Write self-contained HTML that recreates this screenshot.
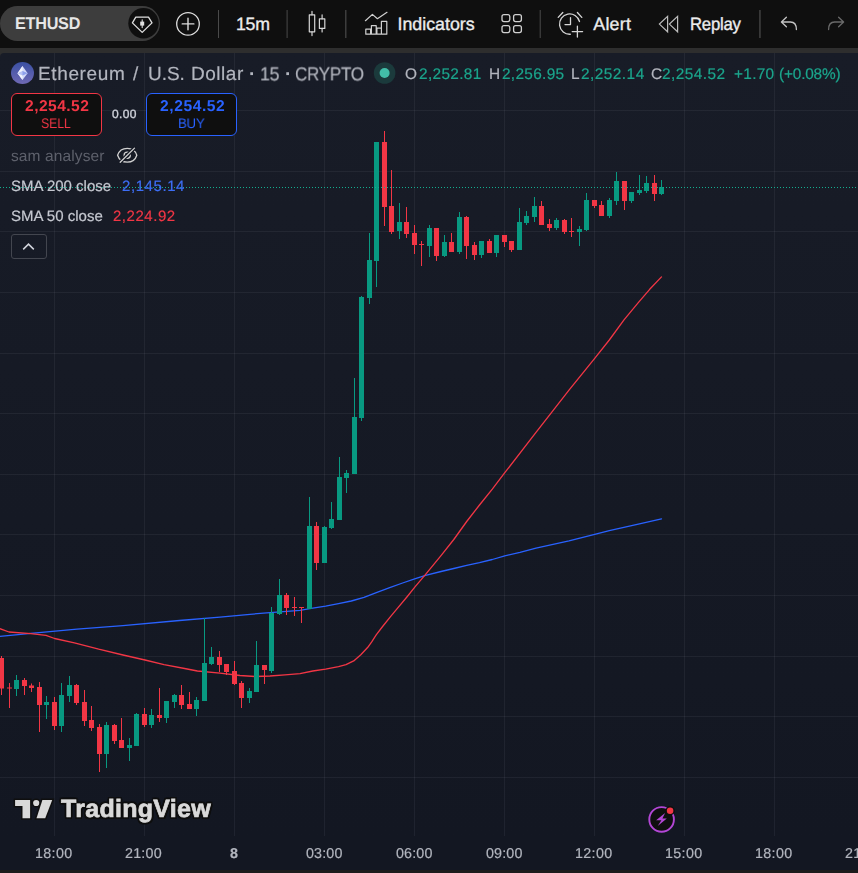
<!DOCTYPE html>
<html lang="en">
<head>
<meta charset="utf-8">
<title>ETHUSD 15 - TradingView</title>
<style>
html,body{margin:0;padding:0;}
body{width:858px;height:873px;overflow:hidden;position:relative;background:#0f0f0f;font-family:"Liberation Sans",sans-serif;}
#toolbar{position:absolute;left:0;top:0;width:858px;height:48px;background:#0f0f0f;}
#band{position:absolute;left:0;top:48px;width:858px;height:12px;background:#2e2e2e;}
#chart{position:absolute;left:0;top:53px;width:858px;height:817px;background:linear-gradient(to bottom,#181c27 0px,#131722 783px,#131722 817px);border-top-left-radius:4px;}
#bottomband{position:absolute;left:0;top:870px;width:858px;height:3px;background:#1c1c1c;}
#plot,#icons{position:absolute;left:0;top:0;}
.t{position:absolute;text-rendering:geometricPrecision;line-height:1;white-space:pre;transform-origin:0 84.65%;}
.sw{-webkit-text-stroke:0.35px currentColor;}
.sw2{-webkit-text-stroke:0.2px currentColor;}
.tvshadow{-webkit-text-stroke:0.7px #d9d9d9;text-shadow:0 0 2px #0f0f0f,1.6px 1.6px 0 #0f0f0f,-1.6px -1.6px 0 #0f0f0f,1.6px -1.6px 0 #0f0f0f,-1.6px 1.6px 0 #0f0f0f,0 2.2px 0 #0f0f0f,0 -2.2px 0 #0f0f0f,2.2px 0 0 #0f0f0f,-2.2px 0 0 #0f0f0f;}
.pill{position:absolute;left:0;top:5.5px;width:160px;height:35px;border-radius:17.5px;background:#3d3d3d;}
.sep{position:absolute;top:10px;width:1px;height:28px;background:#4a4a4a;}
.qbox{position:absolute;top:93px;width:89px;height:41px;border:1px solid;border-radius:6px;background:#0f0f0f;}
.qsell{left:11px;border-color:#f23645;}
.qbuy{left:146px;border-color:#2962ff;}
.collapse{position:absolute;left:11px;top:234px;width:34px;height:23px;border:1px solid #43464f;border-radius:3px;}
.cv{will-change:transform;}

</style>
</head>
<body>
<div id="toolbar"></div>
<div id="band"></div>
<div id="chart"></div>
<div id="bottomband"></div>
<svg id="plot" width="858" height="873" viewBox="0 0 858 873">
<defs><pattern id="dots" x="0" y="0" width="3" height="1" patternUnits="userSpaceOnUse"><rect x="0" y="0" width="1" height="1" fill="#13ad8f"/></pattern></defs>
<g fill="rgba(240,243,250,0.06)" shape-rendering="crispEdges">
<rect x="0" y="110" width="858" height="1"/>
<rect x="0" y="171" width="858" height="1"/>
<rect x="0" y="231" width="858" height="1"/>
<rect x="0" y="292" width="858" height="1"/>
<rect x="0" y="353" width="858" height="1"/>
<rect x="0" y="413" width="858" height="1"/>
<rect x="0" y="474" width="858" height="1"/>
<rect x="0" y="534" width="858" height="1"/>
<rect x="0" y="595" width="858" height="1"/>
<rect x="0" y="656" width="858" height="1"/>
<rect x="0" y="716" width="858" height="1"/>
<rect x="0" y="777" width="858" height="1"/>
<rect x="54" y="53" width="1" height="783"/>
<rect x="144" y="53" width="1" height="783"/>
<rect x="234" y="53" width="1" height="783"/>
<rect x="324" y="53" width="1" height="783"/>
<rect x="414" y="53" width="1" height="783"/>
<rect x="504" y="53" width="1" height="783"/>
<rect x="594" y="53" width="1" height="783"/>
<rect x="684" y="53" width="1" height="783"/>
<rect x="774" y="53" width="1" height="783"/>
</g>
<polyline points="-1.0,636.5 0.0,636.4 30.8,633.3 77.0,629.2 123.0,625.6 179.5,620.5 220.0,617.2 250.0,614.3 270.0,612.6 300.0,610.3 312.8,608.2 325.6,606.2 338.5,603.6 351.3,601.0 364.0,597.4 377.0,592.3 389.7,587.7 402.6,583.0 415.4,578.7 425.6,575.4 441.0,571.5 453.8,568.5 466.7,565.4 479.5,562.6 492.3,559.5 504.8,555.9 520.0,552.4 536.0,548.2 569.0,540.9 594.7,534.3 609.3,530.6 635.0,524.8 661.5,518.9" fill="none" stroke="#2962ff" stroke-width="1.3" stroke-linejoin="round" stroke-linecap="round"/>
<polyline points="-1.0,628.5 0.0,628.7 9.0,632.0 30.8,633.6 46.0,635.4 54.6,638.5 74.4,642.8 98.7,649.2 123.0,655.0 145.0,660.0 164.0,664.6 184.6,668.5 197.4,671.0 220.0,673.2 240.0,675.5 255.0,676.5 270.0,676.0 285.0,674.8 300.0,673.6 312.8,671.0 325.6,669.2 338.5,666.7 346.0,664.7 353.7,660.9 360.8,654.7 367.8,647.3 371.7,641.9 376.2,634.9 382.6,626.5 390.3,616.9 398.0,607.7 406.9,597.0 415.4,586.4 425.6,574.4 441.0,555.6 453.8,539.5 466.7,521.5 479.5,505.0 492.3,489.2 504.8,472.7 536.0,432.4 569.0,390.2 594.7,358.3 609.3,340.0 624.0,319.8 638.7,302.2 649.7,289.3 661.5,276.9" fill="none" stroke="#f23645" stroke-width="1.3" stroke-linejoin="round" stroke-linecap="round"/>
<g fill="#089981"><rect x="16" y="675" width="1" height="21"/><rect x="14" y="680" width="5" height="9"/><rect x="46" y="696" width="1" height="23"/><rect x="44" y="702" width="5" height="3"/><rect x="61" y="683" width="1" height="49"/><rect x="59" y="695" width="5" height="31"/><rect x="69" y="676" width="1" height="26"/><rect x="67" y="685" width="5" height="11"/><rect x="106" y="722" width="1" height="46"/><rect x="104" y="725" width="5" height="29"/><rect x="129" y="738" width="1" height="23"/><rect x="127" y="745" width="5" height="3"/><rect x="136" y="713" width="1" height="33"/><rect x="134" y="714" width="5" height="32"/><rect x="151" y="709" width="1" height="19"/><rect x="149" y="715" width="5" height="10"/><rect x="166" y="701" width="1" height="22"/><rect x="164" y="701" width="5" height="17"/><rect x="174" y="694" width="1" height="14"/><rect x="172" y="695" width="5" height="7"/><rect x="196" y="697" width="1" height="19"/><rect x="194" y="700" width="5" height="9"/><rect x="204" y="618" width="1" height="83"/><rect x="202" y="663" width="5" height="38"/><rect x="211" y="647" width="1" height="18"/><rect x="209" y="657" width="5" height="7"/><rect x="249" y="688" width="1" height="15"/><rect x="247" y="691" width="5" height="7"/><rect x="256" y="641" width="1" height="51"/><rect x="254" y="665" width="5" height="27"/><rect x="271" y="607" width="1" height="66"/><rect x="269" y="613" width="5" height="58"/><rect x="279" y="579" width="1" height="36"/><rect x="277" y="595" width="5" height="19"/><rect x="309" y="497" width="1" height="112"/><rect x="307" y="526" width="5" height="83"/><rect x="324" y="526" width="1" height="37"/><rect x="322" y="527" width="5" height="36"/><rect x="331" y="502" width="1" height="27"/><rect x="329" y="519" width="5" height="9"/><rect x="339" y="457" width="1" height="63"/><rect x="337" y="477" width="5" height="43"/><rect x="346" y="470" width="1" height="23"/><rect x="344" y="473" width="5" height="5"/><rect x="354" y="378" width="1" height="96"/><rect x="352" y="417" width="5" height="57"/><rect x="361" y="296" width="1" height="125"/><rect x="359" y="297" width="5" height="121"/><rect x="369" y="233" width="1" height="71"/><rect x="367" y="260" width="5" height="38"/><rect x="376" y="142" width="1" height="145"/><rect x="374" y="142" width="5" height="119"/><rect x="399" y="203" width="1" height="36"/><rect x="397" y="222" width="5" height="9"/><rect x="429" y="225" width="1" height="32"/><rect x="427" y="228" width="5" height="18"/><rect x="444" y="235" width="1" height="22"/><rect x="442" y="242" width="5" height="14"/><rect x="459" y="212" width="1" height="42"/><rect x="457" y="217" width="5" height="35"/><rect x="481" y="241" width="1" height="17"/><rect x="479" y="241" width="5" height="14"/><rect x="496" y="235" width="1" height="22"/><rect x="494" y="235" width="5" height="18"/><rect x="519" y="208" width="1" height="42"/><rect x="517" y="222" width="5" height="28"/><rect x="526" y="211" width="1" height="14"/><rect x="524" y="216" width="5" height="7"/><rect x="534" y="197" width="1" height="25"/><rect x="532" y="206" width="5" height="11"/><rect x="556" y="218" width="1" height="12"/><rect x="554" y="220" width="5" height="8"/><rect x="579" y="226" width="1" height="20"/><rect x="577" y="229" width="5" height="3"/><rect x="586" y="193" width="1" height="38"/><rect x="584" y="200" width="5" height="30"/><rect x="609" y="198" width="1" height="20"/><rect x="607" y="200" width="5" height="16"/><rect x="616" y="172" width="1" height="33"/><rect x="614" y="181" width="5" height="20"/><rect x="631" y="192" width="1" height="11"/><rect x="629" y="192" width="5" height="9"/><rect x="639" y="175" width="1" height="20"/><rect x="637" y="190" width="5" height="3"/><rect x="646" y="176" width="1" height="17"/><rect x="644" y="183" width="5" height="8"/><rect x="661" y="180" width="1" height="15"/><rect x="659" y="187" width="5" height="7"/></g>
<g fill="#f23645"><rect x="1" y="656" width="1" height="39"/><rect x="-1" y="658" width="5" height="30.5"/><rect x="9" y="683" width="1" height="25"/><rect x="7" y="687.5" width="5" height="1"/><rect x="24" y="678" width="1" height="17"/><rect x="22" y="680" width="5" height="6"/><rect x="31" y="683.5" width="1" height="8.5"/><rect x="29" y="685.5" width="5" height="2.5"/><rect x="39" y="682" width="1" height="50"/><rect x="37" y="687" width="5" height="18"/><rect x="54" y="697" width="1" height="33"/><rect x="52" y="702" width="5" height="24"/><rect x="76" y="684" width="1" height="21"/><rect x="74" y="685" width="5" height="18"/><rect x="84" y="690" width="1" height="36"/><rect x="82" y="702" width="5" height="19"/><rect x="91" y="706" width="1" height="25"/><rect x="89" y="720" width="5" height="8"/><rect x="99" y="724" width="1" height="48"/><rect x="97" y="727" width="5" height="27"/><rect x="114" y="724" width="1" height="20"/><rect x="112" y="725" width="5" height="16"/><rect x="121" y="718" width="1" height="30"/><rect x="119" y="740" width="5" height="8"/><rect x="144" y="708" width="1" height="19"/><rect x="142" y="714" width="5" height="11"/><rect x="159" y="688" width="1" height="34"/><rect x="157" y="715" width="5" height="3"/><rect x="181" y="685" width="1" height="24"/><rect x="179" y="695" width="5" height="10"/><rect x="189" y="692" width="1" height="17"/><rect x="187" y="704" width="5" height="5"/><rect x="219" y="651" width="1" height="21"/><rect x="217" y="657" width="5" height="8"/><rect x="226" y="664" width="1" height="11"/><rect x="224" y="664" width="5" height="8"/><rect x="234" y="661" width="1" height="24"/><rect x="232" y="671" width="5" height="13"/><rect x="241" y="681" width="1" height="27"/><rect x="239" y="683" width="5" height="15"/><rect x="264" y="665" width="1" height="19"/><rect x="262" y="665" width="5" height="5"/><rect x="286" y="593" width="1" height="22"/><rect x="284" y="595" width="5" height="13"/><rect x="294" y="597" width="1" height="19"/><rect x="292" y="607" width="5" height="1"/><rect x="301" y="607" width="1" height="16"/><rect x="299" y="607" width="5" height="1"/><rect x="316" y="522" width="1" height="48"/><rect x="314" y="526" width="5" height="37"/><rect x="384" y="131" width="1" height="95"/><rect x="382" y="142" width="5" height="65"/><rect x="391" y="170" width="1" height="64"/><rect x="389" y="206" width="5" height="26"/><rect x="406" y="207" width="1" height="31"/><rect x="404" y="222" width="5" height="12"/><rect x="414" y="225" width="1" height="29"/><rect x="412" y="233" width="5" height="12"/><rect x="421" y="241" width="1" height="25"/><rect x="419" y="244" width="5" height="1"/><rect x="436" y="228" width="1" height="33"/><rect x="434" y="228" width="5" height="28"/><rect x="451" y="233" width="1" height="19"/><rect x="449" y="242" width="5" height="10"/><rect x="466" y="216" width="1" height="43"/><rect x="464" y="217" width="5" height="29"/><rect x="474" y="242" width="1" height="18"/><rect x="472" y="245" width="5" height="10"/><rect x="489" y="239" width="1" height="14"/><rect x="487" y="241" width="5" height="12"/><rect x="504" y="235" width="1" height="12"/><rect x="502" y="235" width="5" height="7"/><rect x="511" y="241" width="1" height="11"/><rect x="509" y="241" width="5" height="9"/><rect x="541" y="201" width="1" height="24"/><rect x="539" y="206" width="5" height="19"/><rect x="549" y="219" width="1" height="12"/><rect x="547" y="224" width="5" height="4"/><rect x="564" y="219" width="1" height="15"/><rect x="562" y="220" width="5" height="12"/><rect x="571" y="218" width="1" height="19"/><rect x="569" y="231" width="5" height="1"/><rect x="594" y="200" width="1" height="8"/><rect x="592" y="200" width="5" height="6"/><rect x="601" y="201" width="1" height="15"/><rect x="599" y="205" width="5" height="11"/><rect x="624" y="181" width="1" height="29"/><rect x="622" y="181" width="5" height="20"/><rect x="654" y="175" width="1" height="26"/><rect x="652" y="183" width="5" height="11"/></g>
<rect x="0" y="187" width="858" height="1" fill="url(#dots)" shape-rendering="crispEdges"/>
</svg>
<div class="pill"></div>
<div class="qbox qsell"></div>
<div class="qbox qbuy"></div>
<div class="collapse"></div>
<svg id="icons" width="858" height="873" viewBox="0 0 858 873" fill="none" stroke-linecap="round" stroke-linejoin="round">
<defs>
<linearGradient id="ethg" x1="0" y1="0" x2="0" y2="1"><stop offset="0" stop-color="#3a50a3"/><stop offset="1" stop-color="#6f69b4"/></linearGradient>
</defs>
<!-- toolbar separators -->
<g fill="#4a4a4a"><rect x="218" y="10" width="1" height="28"/><rect x="286.6" y="10" width="1" height="28"/><rect x="345.2" y="10" width="1.2" height="28"/><rect x="539.7" y="10" width="1" height="28"/><rect x="759.3" y="10" width="1.3" height="28"/></g>
<!-- symbol search: crown/diamond badge -->
<circle cx="143.5" cy="23.3" r="15.2" fill="#0f0f0f"/>
<path d="M135.8 17.2H148.5L152 22.9L142.2 32.4L132.4 22.9Z" stroke="#e0e0e0" stroke-width="1.3"/>
<rect x="140.2" y="21.6" width="4" height="4" fill="#e0e0e0"/>
<path d="M142.2 19.8V27.6" stroke="#e0e0e0" stroke-width="1.1"/>
<!-- compare / add symbol -->
<circle cx="188" cy="23.9" r="11.3" stroke="#dcdcdc" stroke-width="1.3"/>
<path d="M182.2 23.9H193.9M188 18.2V29.7" stroke="#dcdcdc" stroke-width="1.4"/>
<!-- candle style -->
<g stroke="#d6d6d6" stroke-width="1.2">
<rect x="309.3" y="14.8" width="5.4" height="17"/>
<path d="M312 11.4V14.8M312 31.8V35.6"/>
<rect x="319.4" y="18.8" width="5.4" height="9.6"/>
<path d="M322.1 14.8V18.8M322.1 28.4V32"/>
</g>
<!-- indicators -->
<g stroke="#d0d0d0" stroke-width="1.2">
<path d="M365.4 20.7L372.4 14.4L377.4 18.7L387 12.3"/>
<path d="M365.8 34.2V29.2H370.6V34.2M371.4 34.2V25.6H376.2V34.2M376.9 34.2V28.2H381.4V34.2M381.4 34.2V21.4H386.8V34.2H365.8"/>
</g>
<!-- layout grid -->
<g stroke="#d0d0d0" stroke-width="1.3">
<rect x="502" y="14.6" width="7.8" height="7" rx="2"/>
<rect x="513.6" y="14.6" width="7.8" height="7" rx="2"/>
<rect x="502" y="25.6" width="7.8" height="7" rx="2"/>
<rect x="513.6" y="25.6" width="7.8" height="7" rx="2"/>
</g>
<!-- alert -->
<g stroke="#d6d6d6" stroke-width="1.3">
<path d="M570.3 34.25A10.15 10.15 0 1 1 579.5 21.5"/>
<path d="M558.2 17.4L562.8 12.5M577.4 12.5L581.8 17.4"/>
<path d="M570.5 17.6V24.6H565"/>
<path d="M572.2 31.6H582.6M577.4 26.2V37.1"/>
</g>
<!-- replay -->
<g stroke="#bdbdbd" stroke-width="1.2" stroke-linejoin="miter">
<path d="M667.6 16.4V31.8L659.4 24.1Z"/>
<path d="M677.6 16.4V31.8L669.4 24.1Z"/>
</g>
<!-- undo / redo -->
<path d="M786.4 17.2L781.4 22L786.4 26.8M781.6 22H790.4Q796.4 22 796.4 29.6" stroke="#c4c4c4" stroke-width="1.3"/>
<path d="M838.6 17.2L843.6 22L838.6 26.8M843.4 22H834.6Q828.6 22 828.6 29.6" stroke="#6a6a6a" stroke-width="1.3"/>
<!-- ETH logo -->
<ellipse cx="22.5" cy="73" rx="11.5" ry="11.1" fill="url(#ethg)"/>
<path d="M22.5 65.9L27.6 73.2L22.5 80.1L17.5 73.2Z" fill="#d3d9f8"/>
<path d="M22.5 65.9V80.1L17.5 73.2Z" fill="#f1f3fd"/>
<path d="M22.5 71L27.6 73.2L22.5 75.6L17.5 73.2Z" fill="#b7c2f3"/>
<path d="M22.5 71V75.6L27.6 73.2Z" fill="#8ea0ec"/>
<!-- market open status -->
<circle cx="384.6" cy="73" r="10.8" fill="#1b3a3c"/>
<circle cx="384.6" cy="73" r="5" fill="#42bda8"/>
<!-- hidden eye -->
<g stroke="#d0d0d0" stroke-width="1.3">
<path d="M117.6 155.2C120.6 146 134 146 136.8 155.2C134 164.4 120.6 164.4 117.6 155.2Z"/>
<circle cx="127.2" cy="155.2" r="3.1"/>
</g>
<path d="M120.2 162.3L134.5 148.1" stroke="#161a25" stroke-width="3.6"/>
<path d="M120.2 162.3L134.5 148.1" stroke="#d0d0d0" stroke-width="1.3"/>
<!-- collapse chevron -->
<path d="M23.2 249.4L28.5 244.1L33.8 249.4" stroke="#d1d4dc" stroke-width="1.5" stroke-linejoin="miter" stroke-linecap="butt"/>
<!-- TradingView mark -->
<g fill="#d9d9d9" stroke="#0f0f0f" stroke-width="3" paint-order="stroke" stroke-linejoin="miter">
<path d="M15.1 799.9H30.1V818.3H22.5V806H15.1Z"/>
<circle cx="36.2" cy="803" r="3.1"/>
<path d="M42.4 799.9H52.2L45.2 818.3H36.5Z"/>
</g>
<!-- go to realtime / flash -->
<circle cx="661.6" cy="819.4" r="12.3" fill="#0f0f0f" stroke="#b347d6" stroke-width="1.9"/>
<path d="M665.1 813L656.1 820.2H661.4L657.7 825.9L666.8 818.6H662.4Z" fill="#b347d6"/>
<circle cx="670.1" cy="810.8" r="4.7" fill="#0f0f0f"/>
<circle cx="670.1" cy="810.8" r="3.25" fill="#f23645"/>
</svg>

<span id="t_sym" class="t" style="left:14.63px;top:15.61px;font-size:17px;color:#e6e6e6;font-weight:700;letter-spacing:-0.250px;transform:translateY(-0.60px) scaleX(0.9519);">ETHUSD</span>
<span id="t_int" class="t sw" style="left:235.60px;top:15.73px;font-size:17.8px;color:#ececec;letter-spacing:-0.250px;transform:scaleX(0.9955);">15m</span>
<span id="t_ind" class="t sw" style="left:397.53px;top:15.73px;font-size:17.8px;color:#ececec;letter-spacing:-0.003px;">Indicators</span>
<span id="t_alert" class="t sw" style="left:593.24px;top:15.73px;font-size:17.8px;color:#ececec;letter-spacing:0.282px;">Alert</span>
<span id="t_replay" class="t sw" style="left:689.58px;top:15.73px;font-size:17.8px;color:#ececec;letter-spacing:-0.250px;transform:scaleX(0.9411);">Replay</span>
<span id="l_t1" class="t sw2 cv" style="left:37.70px;top:64.92px;font-size:19px;color:#b2b5be;letter-spacing:0.632px;transform:translateY(0.40px);">Ethereum</span>
<span id="l_t2" class="t sw2 cv" style="left:132.71px;top:64.92px;font-size:19px;color:#b2b5be;transform:translateY(0.40px);">/</span>
<span id="l_t3" class="t sw2 cv" style="left:147.61px;top:64.92px;font-size:19px;color:#b2b5be;letter-spacing:-0.051px;transform:translateY(0.40px);">U.S.</span>
<span id="l_t4" class="t sw2 cv" style="left:190.70px;top:64.92px;font-size:19px;color:#b2b5be;letter-spacing:0.528px;transform:translateY(0.40px);">Dollar</span>
<span id="l_t5" class="t cv" style="left:248.57px;top:64.92px;font-size:19px;color:#b2b5be;font-weight:700;transform:translateY(0.40px);">·</span>
<span id="l_t6" class="t sw2 cv" style="left:259.71px;top:64.92px;font-size:19px;color:#b2b5be;letter-spacing:-0.250px;transform:translateY(0.40px) scaleX(0.9350);">15</span>
<span id="l_t7" class="t cv" style="left:284.57px;top:64.92px;font-size:19px;color:#b2b5be;font-weight:700;transform:translateY(0.40px);">·</span>
<span id="l_t8" class="t sw2 cv" style="left:294.58px;top:64.92px;font-size:19px;color:#b2b5be;letter-spacing:-0.250px;transform:translateY(0.40px) scaleX(0.8927);">CRYPTO</span>
<span id="l_o" class="t sw2 cv" style="left:404.62px;top:65.96px;font-size:15.4px;color:#b2b5be;transform:translateY(0.50px);">O</span>
<span id="l_ov" class="t sw2 cv" style="left:418.59px;top:65.96px;font-size:15.4px;color:#1ba58c;letter-spacing:0.334px;transform:translateY(0.50px);">2,252.81</span>
<span id="l_h" class="t sw2 cv" style="left:488.74px;top:65.96px;font-size:15.4px;color:#b2b5be;transform:translateY(0.50px);">H</span>
<span id="l_hv" class="t sw2 cv" style="left:501.69px;top:65.96px;font-size:15.4px;color:#1ba58c;letter-spacing:0.313px;transform:translateY(0.50px);">2,256.95</span>
<span id="l_l" class="t sw2 cv" style="left:570.56px;top:65.96px;font-size:15.4px;color:#b2b5be;transform:translateY(0.50px);">L</span>
<span id="l_lv" class="t sw2 cv" style="left:580.54px;top:65.96px;font-size:15.4px;color:#1ba58c;letter-spacing:0.469px;transform:translateY(0.50px);">2,252.14</span>
<span id="l_c" class="t sw2 cv" style="left:650.66px;top:65.96px;font-size:15.4px;color:#b2b5be;transform:translateY(0.50px);">C</span>
<span id="l_cv" class="t sw2 cv" style="left:661.69px;top:65.96px;font-size:15.4px;color:#1ba58c;letter-spacing:0.467px;transform:translateY(0.50px);">2,254.52</span>
<span id="l_chg" class="t sw2 cv" style="left:733.51px;top:65.96px;font-size:15.4px;color:#1ba58c;letter-spacing:0.291px;transform:translateY(0.50px);">+1.70</span>
<span id="l_pct" class="t sw2 cv" style="left:778.71px;top:65.96px;font-size:15.4px;color:#1ba58c;letter-spacing:-0.180px;transform:translateY(0.50px);">(+0.08%)</span>
<span id="s_price" class="t cv" style="left:24.66px;top:97.79px;font-size:15.6px;color:#f23645;font-weight:700;letter-spacing:0.459px;transform:translateY(1.00px);">2,254.52</span>
<span id="s_lbl" class="t cv" style="left:40.52px;top:116.35px;font-size:14px;color:#f23645;letter-spacing:-0.250px;transform:scaleX(0.8882);">SELL</span>
<span id="spread" class="t sw cv" style="left:111.73px;top:107.64px;font-size:12px;color:#d1d4dc;letter-spacing:0.342px;transform:translateY(-0.50px);">0.00</span>
<span id="b_price" class="t cv" style="left:159.51px;top:97.79px;font-size:15.6px;color:#2962ff;font-weight:700;letter-spacing:0.584px;transform:translateY(1.00px);">2,254.52</span>
<span id="b_lbl" class="t cv" style="left:177.62px;top:116.35px;font-size:14px;color:#2962ff;letter-spacing:-0.250px;transform:scaleX(0.9426);">BUY</span>
<span id="i_sam" class="t cv" style="left:10.52px;top:147.48px;font-size:15.5px;color:#5d606b;letter-spacing:0.111px;transform:translateY(2.00px);">sam analyser</span>
<span id="i_200" class="t sw2 cv" style="left:10.68px;top:177.90px;font-size:15px;color:#c5c8d0;letter-spacing:0.008px;transform:translateY(1.00px);">SMA 200 close</span>
<span id="i_200v" class="t sw2 cv" style="left:121.63px;top:177.90px;font-size:15px;color:#3d6ef5;letter-spacing:0.581px;transform:translateY(1.00px);">2,145.14</span>
<span id="i_50" class="t sw2 cv" style="left:10.68px;top:207.90px;font-size:15px;color:#c5c8d0;letter-spacing:0.001px;transform:translateY(1.00px);">SMA 50 close</span>
<span id="i_50v" class="t sw2 cv" style="left:112.68px;top:207.90px;font-size:15px;color:#f23645;letter-spacing:0.529px;transform:translateY(1.00px);">2,224.92</span>
<span id="tv_txt" class="t tvshadow cv" style="left:60.61px;top:797.24px;font-size:25px;color:#d9d9d9;font-weight:700;letter-spacing:0.296px;">TradingView</span>
<span id="x_0" class="t sw2 cv" style="left:34.50px;top:845.90px;font-size:14.3px;color:#b2b5be;letter-spacing:0.348px;transform:translateY(0.80px);">18:00</span>
<span id="x_1" class="t sw2 cv" style="left:124.73px;top:845.90px;font-size:14.3px;color:#b2b5be;letter-spacing:0.230px;transform:translateY(0.80px);">21:00</span>
<span id="x_2" class="t sw2 cv" style="left:229.65px;top:845.90px;font-size:14.3px;color:#b2b5be;font-weight:700;transform:translateY(0.80px);">8</span>
<span id="x_3" class="t sw2 cv" style="left:305.74px;top:845.90px;font-size:14.3px;color:#b2b5be;letter-spacing:0.164px;transform:translateY(0.80px);">03:00</span>
<span id="x_4" class="t sw2 cv" style="left:395.74px;top:845.90px;font-size:14.3px;color:#b2b5be;letter-spacing:0.164px;transform:translateY(0.80px);">06:00</span>
<span id="x_5" class="t sw2 cv" style="left:485.74px;top:845.90px;font-size:14.3px;color:#b2b5be;letter-spacing:0.164px;transform:translateY(0.80px);">09:00</span>
<span id="x_6" class="t sw2 cv" style="left:574.50px;top:845.90px;font-size:14.3px;color:#b2b5be;letter-spacing:0.348px;transform:translateY(0.80px);">12:00</span>
<span id="x_7" class="t sw2 cv" style="left:664.50px;top:845.90px;font-size:14.3px;color:#b2b5be;letter-spacing:0.348px;transform:translateY(0.80px);">15:00</span>
<span id="x_8" class="t sw2 cv" style="left:754.50px;top:845.90px;font-size:14.3px;color:#b2b5be;letter-spacing:0.348px;transform:translateY(0.80px);">18:00</span>
<span id="x_9" class="t sw2 cv" style="left:844.73px;top:845.90px;font-size:14.3px;color:#b2b5be;letter-spacing:0.230px;transform:translateY(0.80px);">21:00</span>
</body>
</html>
